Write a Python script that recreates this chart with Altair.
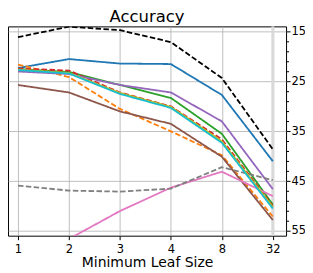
import altair as alt
import pandas as pd

x_labels = ["1", "2", "3", "4", "8", "32"]

series_names = ["s01", "s02", "s03", "s04", "s05", "s06", "s07", "s08", "s09", "s10", "s11"]
colors = ["#1f77b4", "#ff7f0e", "#2ca02c", "#d62728", "#9467bd", "#8c564b",
          "#e377c2", "#7f7f7f", "#bcbd22", "#17becf", "#000000"]
dashes = [[1, 0], [5.5, 2.4], [1, 0], [5.5, 2.4], [1, 0], [1, 0],
          [1, 0], [5.5, 2.4], [1, 0], [1, 0], [5.5, 2.4]]

s01 = [22.3, 20.5, 21.4, 21.5, 27.7, 41.0]
s02 = [21.6, 24.1, 30.5, 35.0, 39.8, 52.1]
s03 = [22.5, 23.1, 25.7, 28.3, 35.5, 49.7]
s04 = [22.4, 22.8, 27.2, 30.0, 36.6, 50.0]
s05 = [23.0, 23.5, 25.7, 27.2, 33.0, 46.6]
s06 = [25.7, 27.2, 31.0, 33.5, 40.1, 52.8]
s07 = [None, 56.6, 51.0, 46.3, 43.1, 48.0]
s08 = [45.9, 46.9, 47.1, 46.5, 42.2, 44.8]
s09 = [22.6, 23.3, 27.3, 30.1, 37.0, 50.2]
s10 = [22.7, 23.4, 27.5, 30.3, 37.3, 50.5]
s11 = [16.1, 14.0, 14.7, 17.1, 24.3, 38.6]
all_values = [s01, s02, s03, s04, s05, s06, s07, s08, s09, s10, s11]

major_ticks = [15, 25, 35, 45, 55]
minor_ticks = [17, 19, 21, 23, 27, 29, 31, 33, 37, 39, 41, 43, 47, 49, 51, 53]

rows = []
for name, vals in zip(series_names, all_values):
    for i, (lab, v) in enumerate(zip(x_labels, vals)):
        rows.append({"series": name, "idx": i, "label": lab, "value": v})
df = pd.DataFrame(rows)

label_expr = "[" + ",".join("'%s'" % l for l in x_labels) + "][datum.value]"

x_enc = alt.X(
    "idx:Q",
    scale=alt.Scale(domain=[-0.196, 5.26], nice=False, zero=False),
    axis=alt.Axis(values=list(range(len(x_labels))), labelExpr=label_expr,
                  title="Minimum Leaf Size", grid=True, tickSize=4,
                  labelPadding=3.5, titlePadding=1, labelFontSize=11.5,
                  titleFontSize=14),
)
y_scale = alt.Scale(domain=[13.94, 55.94], reverse=True, nice=False, zero=False)

band = alt.Chart(pd.DataFrame({"idx": [x_labels.index("32")]})).mark_rule(
    color="#d9d9d9", strokeWidth=3
).encode(x=x_enc)

lines = alt.Chart(df).mark_line(clip=True, strokeWidth=1.8).encode(
    x=x_enc,
    y=alt.Y("value:Q", scale=y_scale,
            axis=alt.Axis(orient="right", values=major_ticks, title=None, grid=True,
                          tickSize=4, labelPadding=1, labelFontSize=11.5)),
    color=alt.Color("series:N", scale=alt.Scale(domain=series_names, range=colors), legend=None),
    strokeDash=alt.StrokeDash("series:N", scale=alt.Scale(domain=series_names, range=dashes), legend=None),
    order="idx:Q",
)

minor = alt.Chart(df).mark_point(opacity=0, clip=True).encode(
    x=x_enc,
    y=alt.Y("value:Q", scale=y_scale,
            axis=alt.Axis(orient="right", values=minor_ticks, title=None, grid=False,
                          labels=False, tickSize=2.5)),
)

chart = alt.layer(band, lines, minor).resolve_axis(y="independent").properties(
    width=279,
    height=210,
    title=alt.TitleParams("Accuracy", fontSize=16.5, font="DejaVu Sans", fontWeight="normal",
                          color="black", offset=-1, anchor="middle"),
    autosize=alt.AutoSizeParams(type="none"),
    padding={"left": 0, "top": 18, "right": 19, "bottom": 34},
).configure_view(
    stroke="black", strokeWidth=1
).configure_axis(
    labelFont="DejaVu Sans", titleFont="DejaVu Sans", labelColor="black", titleColor="black",
    titleFontWeight="normal", tickColor="black", tickWidth=1, gridColor="#b0b0b0",
    gridWidth=0.8, domain=False,
)

chart.save("out.html", embed_options={"renderer": "svg", "actions": False})
